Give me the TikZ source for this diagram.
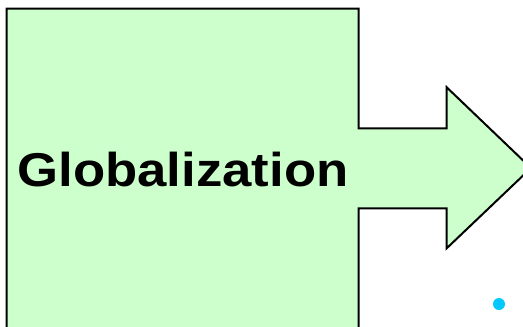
\documentclass[tikz,border=0pt]{standalone}
\usepackage{fontspec}
\setmainfont{Liberation Sans}
\definecolor{boxgreen}{HTML}{CCFFCC}
\definecolor{dotblue}{HTML}{00C8FF}
\begin{document}
\begin{tikzpicture}[x=1pt,y=-1pt,
  shapeline/.style={draw=black,line width=2pt,fill=boxgreen,line join=miter},
  labeltext/.style={font=\fontsize{47.5}{50}\selectfont\bfseries,inner sep=0pt,anchor=base,xscale=1.11}]
\useasboundingbox (0,0) rectangle (523,327);
\clip (0,0) rectangle (523,327);
\path[shapeline] (6.5,345) -- (6.5,8.5) -- (358.5,8.5) -- (358.5,128.3) -- (446.7,128.3)
  -- (446.7,87.3) -- (531,168) -- (446.7,248.3) -- (446.7,208.3) -- (358.5,208.3)
  -- (358.5,345) -- cycle;
\node[labeltext] (title) at (183,186) {Globalization};
\fill[dotblue] (499,304) circle (6);
\end{tikzpicture}
\end{document}
